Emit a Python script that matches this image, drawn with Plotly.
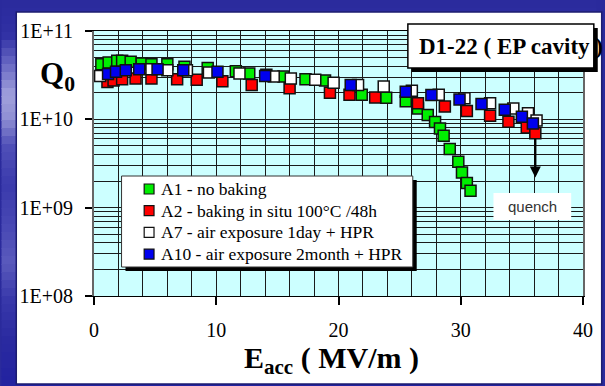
import math
import plotly.graph_objects as go

# Q0 vs Eacc for cavity D1-22 (EP), four test sequences
a1_eacc = [0.6, 1.2, 1.9, 2.3, 3.0, 3.9, 4.7, 6.0, 7.4, 9.3, 11.6, 12.7, 14.1, 15.5,
           17.3, 18.9, 21.9, 23.9, 25.5, 26.5, 27.3, 27.9, 28.3, 28.6, 29.1, 29.8,
           30.1, 30.5, 30.8]
a1_q0 = [4.2e10, 4.4e10, 4.6e10, 4.6e10, 4.5e10, 4.3e10, 4.2e10, 4.2e10, 3.95e10,
         3.8e10, 3.5e10, 3.3e10, 3.2e10, 3.05e10, 2.85e10, 2.75e10, 1.9e10, 1.75e10,
         1.6e10, 1.33e10, 1.12e10, 9.3e9, 7.9e9, 6.5e9, 4.6e9, 3.3e9, 2.5e9, 1.9e9,
         1.55e9]

a2_eacc = [1.1, 1.6, 2.3, 3.4, 4.7, 6.8, 8.4, 10.5, 12.9, 16.0, 19.3, 20.9, 23.0,
           26.5, 28.7, 30.5, 32.4, 33.9, 35.4, 36.1]
a2_q0 = [2.65e10, 2.75e10, 2.85e10, 2.9e10, 2.9e10, 2.85e10, 2.8e10, 2.7e10, 2.45e10,
         2.25e10, 2.0e10, 1.9e10, 1.77e10, 1.52e10, 1.4e10, 1.24e10, 1.1e10, 9.4e9,
         8.1e9, 6.95e9]

a7_eacc = [0.5, 4.7, 6.0, 7.6, 9.4, 11.9, 14.7, 16.1, 18.1, 19.6, 21.6, 23.7, 26.0,
           28.2, 30.3, 32.4, 34.3, 35.5, 36.2]
a7_q0 = [3.1e10, 3.7e10, 3.6e10, 3.6e10, 3.4e10, 3.3e10, 3.05e10, 2.9e10, 2.8e10,
         2.6e10, 2.45e10, 2.35e10, 2.1e10, 1.9e10, 1.73e10, 1.52e10, 1.33e10, 1.17e10,
         9.7e9]

a10_eacc = [1.15, 1.8, 2.6, 3.7, 5.2, 7.3, 10.1, 14.0, 21.0, 25.5, 27.6, 29.9, 31.7,
            33.6, 35.0, 35.9]
a10_q0 = [3.25e10, 3.45e10, 3.6e10, 3.7e10, 3.7e10, 3.6e10, 3.45e10, 3.1e10, 2.45e10,
          2.05e10, 1.88e10, 1.68e10, 1.49e10, 1.28e10, 1.07e10, 9.0e9]

series = [
    ("A1 - no baking", a1_eacc, a1_q0, "#00ee00"),
    ("A2 - baking in situ 100°C /48h", a2_eacc, a2_q0, "#ff0000"),
    ("A7 - air exposure 1day + HPR", a7_eacc, a7_q0, "#ffffff"),
    ("A10 - air exposure 2month + HPR", a10_eacc, a10_q0, "#0000ee"),
]

x_ticks = [0, 10, 20, 30, 40]
y_ticks = [1e8, 1e9, 1e10, 1e11]
y_labels = ["1E+08", "1E+09", "1E+10", "1E+11"]

W, H = 605, 386
ML, MR, MT, MB = 94, 14, 31, 90
PW, PH = W - ML - MR, H - MT - MB


def px(x):
    return (x - ML) / PW


def py(y):
    return (H - MB - y) / PH


SERIF = "Liberation Serif, Times New Roman, serif"
EDGE = "#111111"

fig = go.Figure()
for name, xs, ys, col in series:
    fig.add_trace(go.Scatter(
        x=xs, y=ys, mode="markers", name=name, showlegend=False,
        marker=dict(symbol="square", size=11, color=col,
                    line=dict(color=EDGE, width=1.5)),
    ))

shapes = []

# blue frame with a soft lighter band on the left
anchors = [(0, (42, 42, 156)), (35, (48, 48, 164)), (65, (106, 106, 196)),
           (95, (160, 160, 220)), (118, (144, 144, 212)), (145, (80, 80, 184)),
           (185, (58, 58, 172)), (225, (72, 72, 180)), (262, (90, 90, 188)),
           (300, (56, 56, 170)), (340, (42, 42, 160)), (386, (34, 34, 160))]
step = 8
for y0 in range(0, H, step):
    yc = y0 + step / 2
    for (ya, ca), (yb, cb) in zip(anchors[:-1], anchors[1:]):
        if ya <= yc <= yb:
            t = (yc - ya) / (yb - ya)
            c = tuple(int(round(ca[k] + t * (cb[k] - ca[k]))) for k in range(3))
            break
    shapes.append(dict(type="rect", xref="paper", yref="paper", layer="below",
                       x0=px(0), x1=px(W), y0=py(y0), y1=py(y0 + step + 1),
                       fillcolor="rgb(%d,%d,%d)" % c, line=dict(width=0)))

# white slide panel
shapes.append(dict(type="rect", xref="paper", yref="paper", layer="below",
                   x0=px(15), x1=px(W + 5), y0=py(384), y1=py(12),
                   fillcolor="white", line=dict(color="#1c1c70", width=1.5)))
# plot area fill
shapes.append(dict(type="rect", xref="paper", yref="paper", layer="below",
                   x0=0, x1=1, y0=0, y1=1, fillcolor="#ccffff", line=dict(width=0)))

# title box with drop shadow
shapes.append(dict(type="rect", xref="paper", yref="paper", layer="above",
                   x0=px(417), x1=px(606), y0=py(72), y1=py(28),
                   fillcolor="black", line=dict(width=0)))
shapes.append(dict(type="rect", xref="paper", yref="paper", layer="above",
                   x0=px(413), x1=px(602), y0=py(68), y1=py(24),
                   fillcolor="white", line=dict(color="black", width=1.5)))

# legend box with drop shadow
LEG_L, LEG_R, LEG_T, LEG_B = 122, 418, 176, 267
shapes.append(dict(type="rect", xref="paper", yref="paper", layer="above",
                   x0=px(LEG_L + 4), x1=px(LEG_R + 4), y0=py(LEG_B + 4), y1=py(LEG_T + 4),
                   fillcolor="black", line=dict(width=0)))
shapes.append(dict(type="rect", xref="paper", yref="paper", layer="above",
                   x0=px(LEG_L), x1=px(LEG_R), y0=py(LEG_B), y1=py(LEG_T),
                   fillcolor="white", line=dict(color="#333333", width=1)))

annotations = []

# legend rows: swatch + label
row_y0, row_dy = 189, 21.7
for i, (name, _, _, col) in enumerate(series):
    yc = row_y0 + i * row_dy
    shapes.append(dict(type="rect", xref="paper", yref="paper", layer="above",
                       x0=px(145), x1=px(155), y0=py(yc + 5), y1=py(yc - 5),
                       fillcolor=col, line=dict(color=EDGE, width=1.2)))
    annotations.append(dict(text=name, xref="paper", yref="paper",
                            x=px(160), y=py(yc), xanchor="left", yanchor="middle",
                            showarrow=False,
                            font=dict(family=SERIF, size=17.5, color="black")))

# backing for the quench label
shapes.append(dict(type="rect", xref="paper", yref="paper", layer="above",
                   x0=px(500), x1=px(579), y0=py(220), y1=py(193),
                   fillcolor="white", line=dict(width=0)))

minor_y = [m * 10 ** d for d in range(8, 11) for m in range(2, 10)]

annotations += [
    dict(text="<b>D1-22 ( EP cavity )</b>", xref="paper", yref="paper",
         x=px(422), y=py(46), xanchor="left", yanchor="middle", showarrow=False,
         font=dict(family=SERIF, size=23, color="black")),
    dict(text="<b>Q<sub>0</sub></b>", xref="paper", yref="paper",
         x=px(37), y=py(76), xanchor="left", yanchor="middle", showarrow=False,
         font=dict(family=SERIF, size=31, color="black")),
    dict(text="<b>E<sub>acc</sub> ( MV/m )</b>", xref="paper", yref="paper",
         x=px(335), y=py(360), xanchor="center", yanchor="middle", showarrow=False,
         font=dict(family=SERIF, size=30, color="black")),
    dict(text="quench", xref="paper", yref="paper",
         x=px(540), y=py(206), xanchor="center", yanchor="middle", showarrow=False,
         font=dict(family="Liberation Sans, Arial, sans-serif", size=15, color="#333333")),
    dict(text="", x=a2_eacc[-1], y=math.log10(2.2e9), xref="x", yref="y",
         showarrow=True, ax=0, ay=-40, arrowhead=2, arrowsize=1, arrowwidth=2.2,
         arrowcolor="black", standoff=0),
]

fig.update_layout(
    width=W, height=H,
    margin=dict(l=ML, r=MR, t=MT, b=MB),
    paper_bgcolor="#2a2a9c",
    plot_bgcolor="rgba(0,0,0,0)",
    shapes=shapes,
    annotations=annotations,
    showlegend=False,
    xaxis=dict(range=[0, 40], tickvals=x_ticks, ticks="outside", ticklen=8,
               tickwidth=1.5, tickcolor="black", showgrid=True, gridcolor="#1a1a1a",
               gridwidth=1, showline=True, linecolor="black", linewidth=1, mirror=True,
               ticklabelstandoff=8,
               tickfont=dict(family=SERIF, size=20, color="black"),
               minor=dict(dtick=2, tick0=0, showgrid=True, gridcolor="#1a1a1a",
                          gridwidth=1, ticks=""),
               zeroline=False),
    yaxis=dict(type="log", range=[8, 11], tickvals=y_ticks, ticktext=y_labels,
               ticks="outside", ticklen=7, tickwidth=1.5, tickcolor="black",
               showgrid=True, gridcolor="#1a1a1a", gridwidth=1,
               showline=True, linecolor="#666666", linewidth=2, mirror=True,
               ticklabelstandoff=8,
               tickfont=dict(family=SERIF, size=20, color="black"),
               minor=dict(tickmode="array", tickvals=minor_y, showgrid=True,
                          gridcolor="#1a1a1a", gridwidth=1, ticks=""),
               zeroline=False),
)

fig.write_html("out.html")
